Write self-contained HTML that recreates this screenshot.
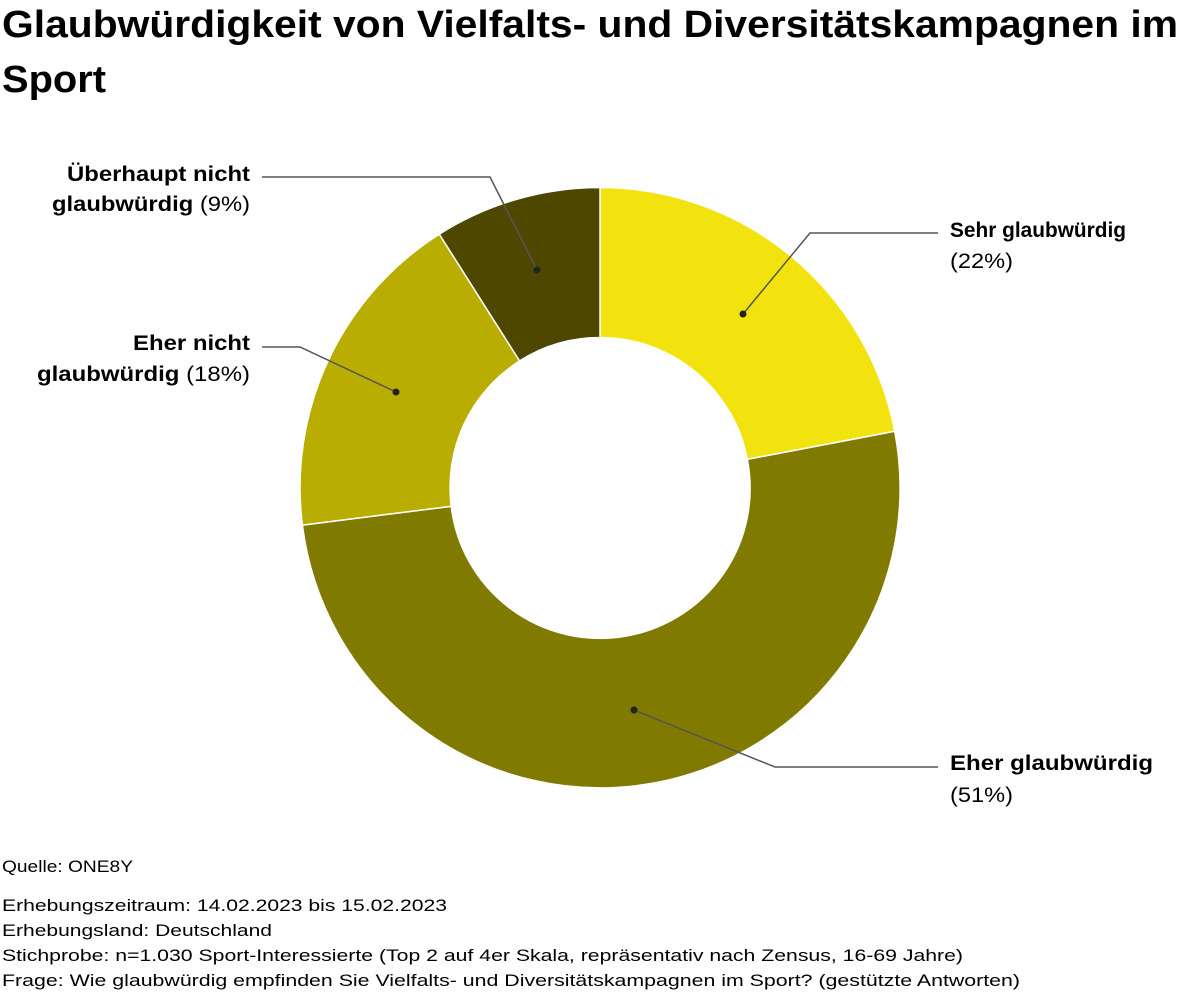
<!DOCTYPE html>
<html><head><meta charset="utf-8"><style>
html,body{margin:0;padding:0;background:#fff;}
svg{display:block;font-family:"Liberation Sans",sans-serif;}
</style></head><body>
<svg width="1200" height="998" viewBox="0 0 1200 998" xmlns="http://www.w3.org/2000/svg">
<text x="2" y="37" font-size="38" font-weight="bold" fill="#000" textLength="1176" lengthAdjust="spacingAndGlyphs">Glaubwürdigkeit von Vielfalts- und Diversitätskampagnen im</text>
<text x="2" y="92" font-size="38" font-weight="bold" fill="#000" textLength="104" lengthAdjust="spacingAndGlyphs">Sport</text>

<g stroke="#fff" stroke-width="1.5">
<path d="M600,187.5 A300,300 0 0 1 894.7,431.3 L747.3,459.4 A150,150 0 0 0 600,337.5 Z" fill="#f2e30f"/>
<path d="M894.7,431.3 A300,300 0 1 1 302.4,525.1 L451.2,506.3 A150,150 0 1 0 747.3,459.4 Z" fill="#807b00"/>
<path d="M302.4,525.1 A300,300 0 0 1 439.3,234.2 L519.6,360.9 A150,150 0 0 0 451.2,506.3 Z" fill="#b8ad00"/>
<path d="M439.3,234.2 A300,300 0 0 1 600,187.5 L600,337.5 A150,150 0 0 0 519.6,360.9 Z" fill="#4d4700"/>
</g>

<g fill="none" stroke="#555" stroke-width="1.5">
<polyline points="262,177 490,177 537,270"/>
<polyline points="262,347 300,347 396,392"/>
<polyline points="938,233 810,233 743,314"/>
<polyline points="938,767 775,767 634,710"/>
</g>
<g fill="#222">
<circle cx="537" cy="270" r="3.5"/>
<circle cx="396" cy="392" r="3.5"/>
<circle cx="743" cy="314" r="3.5"/>
<circle cx="634" cy="710" r="3.5"/>
</g>

<g font-size="21" fill="#000">
<text x="67" y="181" font-weight="bold" textLength="183" lengthAdjust="spacingAndGlyphs">Überhaupt nicht</text>
<text x="52" y="211" textLength="198" lengthAdjust="spacingAndGlyphs"><tspan font-weight="bold">glaubwürdig</tspan> (9%)</text>
<text x="133" y="350" font-weight="bold" textLength="117" lengthAdjust="spacingAndGlyphs">Eher nicht</text>
<text x="37" y="381" textLength="213" lengthAdjust="spacingAndGlyphs"><tspan font-weight="bold">glaubwürdig</tspan> (18%)</text>
<text x="950" y="237" font-weight="bold" textLength="176" lengthAdjust="spacingAndGlyphs">Sehr glaubwürdig</text>
<text x="950" y="268" textLength="63" lengthAdjust="spacingAndGlyphs">(22%)</text>
<text x="950" y="770" font-weight="bold" textLength="203" lengthAdjust="spacingAndGlyphs">Eher glaubwürdig</text>
<text x="950" y="802" textLength="63" lengthAdjust="spacingAndGlyphs">(51%)</text>
</g>

<g font-size="17" fill="#000">
<text x="2" y="872" textLength="131" lengthAdjust="spacingAndGlyphs">Quelle: ONE8Y</text>
<text x="2" y="911" textLength="445" lengthAdjust="spacingAndGlyphs">Erhebungszeitraum: 14.02.2023 bis 15.02.2023</text>
<text x="2" y="936" textLength="270" lengthAdjust="spacingAndGlyphs">Erhebungsland: Deutschland</text>
<text x="2" y="961" textLength="961" lengthAdjust="spacingAndGlyphs">Stichprobe: n=1.030 Sport-Interessierte (Top 2 auf 4er Skala, repräsentativ nach Zensus, 16-69 Jahre)</text>
<text x="2" y="986" textLength="1018" lengthAdjust="spacingAndGlyphs">Frage: Wie glaubwürdig empfinden Sie Vielfalts- und Diversitätskampagnen im Sport? (gestützte Antworten)</text>
</g>
</svg>
</body></html>
